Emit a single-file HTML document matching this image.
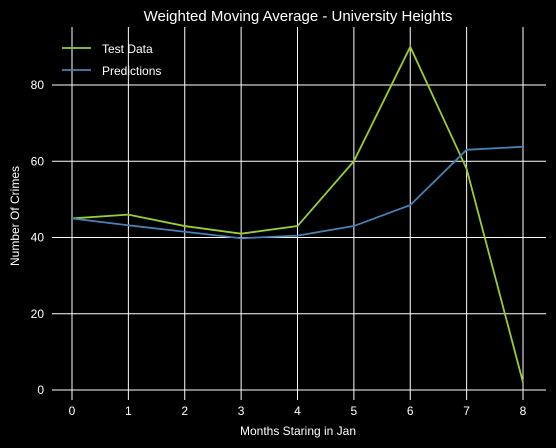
<!DOCTYPE html>
<html><head><meta charset="utf-8"><style>
html,body{margin:0;padding:0;background:#000;}
svg{display:block;font-family:"Liberation Sans",sans-serif;}
</style></head><body>
<svg id="chart" width="556" height="448">
<rect width="556" height="448" fill="#000"/>
<text x="298" y="21" fill="#fff" font-size="15" text-anchor="middle">Weighted Moving Average - University Heights</text>
<text x="298" y="435" fill="#fff" font-size="12" text-anchor="middle">Months Staring in Jan</text>
<text x="19" y="216" fill="#fff" font-size="12" text-anchor="middle" transform="rotate(-90 19 216)">Number Of Crimes</text>
<g id="grid"></g><g id="ticks"></g><g id="series"></g>
<g>
<line x1="62" y1="48" x2="91" y2="48" stroke="#9acd32" stroke-width="1.8"/>
<text x="102" y="53" fill="#fff" font-size="12">Test Data</text>
<line x1="62" y1="70" x2="91" y2="70" stroke="#4682b4" stroke-width="1.8"/>
<text x="102" y="75" fill="#fff" font-size="12">Predictions</text>
</g>
</svg>
<script>
const months=[0,1,2,3,4,5,6,7,8];
const testData=[45,46,43,41,43,60,90,58,2];
const predictions=[45,43.2,41.5,39.8,40.5,43,48.5,63,63.8];
const yTicks=[0,20,40,60,80];
const NS="http://www.w3.org/2000/svg";
const xs=v=>72+v*56.375, ys=v=>390-v*3.8125;
function mk(t,a,p){const e=document.createElementNS(NS,t);for(const k in a)e.setAttribute(k,a[k]);p.appendChild(e);return e;}
const grid=document.getElementById('grid'),ticks=document.getElementById('ticks'),series=document.getElementById('series');
months.forEach(m=>{
 const l=mk('line',{x1:xs(m),x2:xs(m),y1:27,y2:400,stroke:'#fff','stroke-width':1},grid);
 
 
 const t=mk('text',{x:xs(m),y:415,fill:'#fff','font-size':12,'text-anchor':'middle'},ticks);t.textContent=m;
 
 
});
yTicks.forEach(v=>{
 const l=mk('line',{x1:52,x2:546,y1:ys(v),y2:ys(v),stroke:'#fff','stroke-width':1},grid);
 
 
 const t=mk('text',{x:44,y:ys(v)+4,fill:'#fff','font-size':12,'text-anchor':'end'},ticks);t.textContent=v;
 
 
});
function line(d,c,n){const p=mk('polyline',{points:d.map((v,i)=>xs(months[i])+','+ys(v)).join(' '),fill:'none',stroke:c,'stroke-width':1.8},series);
 
 }
line(testData,'#9acd32','test-data-line');
line(predictions,'#4682b4','predictions-line');
</script>
</body></html>
